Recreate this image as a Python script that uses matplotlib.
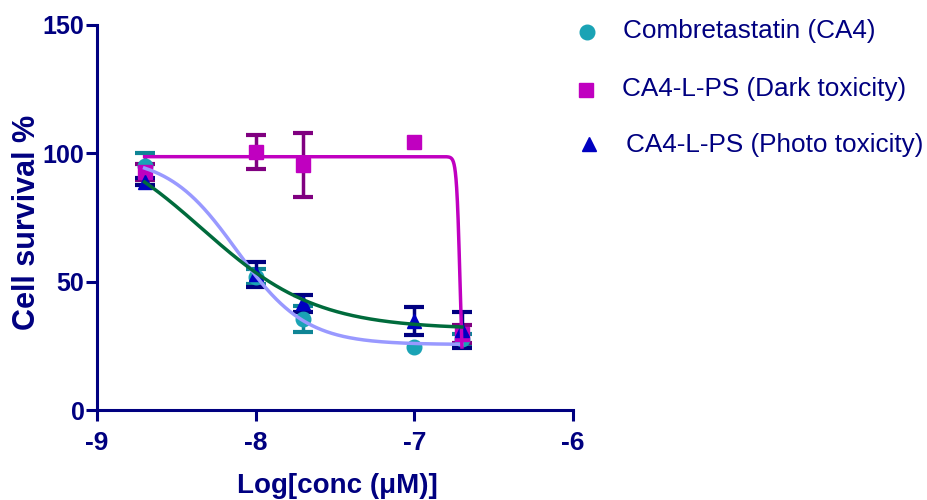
import numpy as np
import matplotlib
matplotlib.use("Agg")
import matplotlib.pyplot as plt
from matplotlib.lines import Line2D

# log concentration (M)
log_conc = [-8.7, -8.0, -7.7, -7.0, -6.7]

# cell survival (%) mean and error (nan = no visible error bar)
ca4_mean = [95.0, 52.0, 35.5, 24.5, 27.5]
ca4_err = [5.3, 3.0, 5.0, np.nan, 2.0]
dark_mean = [92.7, 100.5, 95.5, 104.5, 29.5]
dark_err = [3.1, 6.5, 12.5, np.nan, 3.5]
photo_mean = [89.0, 52.8, 41.5, 34.6, 31.0]
photo_err = [1.5, 4.9, 3.3, 5.4, 7.0]

# 4-parameter fit: top, bottom, logEC50, hill slope
ca4_fit = (99.0, 25.5, -8.12, 2.0)
dark_fit = (98.7, 0.0, -6.712, 40.0)
photo_fit = (110.0, 31.5, -8.34, 1.2)

labels = ["Combretastatin (CA4)", "CA4-L-PS (Dark toxicity)", "CA4-L-PS (Photo toxicity)"]

NAVY = "#000080"
plt.rcParams["font.family"] = ["Liberation Sans", "DejaVu Sans"]


def four_pl(x, top, bottom, logec50, hill):
    return bottom + (top - bottom) / (1 + 10 ** ((x - logec50) * hill))


W, H = 927, 500
fig = plt.figure(figsize=(W / 100, H / 100), dpi=100)
ax = fig.add_axes([97 / W, 90 / H, 476 / W, 385 / H])

series = [
    (ca4_mean, ca4_err, "o", "#1aa3b5", "#0f8595", ca4_fit, "#9999ff"),
    (dark_mean, dark_err, "s", "#c000c0", "#800080", dark_fit, "#c000c0"),
    (photo_mean, photo_err, "^", "#0000c0", "#000080", photo_fit, "#006b3c"),
]

for mean, err, mk, fc, ec, fit, lc in series:
    ax.errorbar(log_conc, mean, yerr=err, fmt=mk, ms=10.5, color=fc, mec=fc,
                ecolor=ec, elinewidth=2.5, capsize=7, capthick=3, clip_on=False,
                zorder=3)

xs = np.linspace(log_conc[0], log_conc[-1], 3000)
for mean, err, mk, fc, ec, fit, lc in series:
    ax.plot(xs, four_pl(xs, *fit), color=lc, lw=2.5, zorder=4, clip_on=False)

ax.set_xlim(-9, -6)
ax.set_ylim(0, 150)
ax.set_xticks([-9, -8, -7, -6])
ax.set_yticks([0, 50, 100, 150])
ax.set_xticklabels(["-9", "-8", "-7", "-6"])
for s in ["top", "right"]:
    ax.spines[s].set_visible(False)
for s in ["left", "bottom"]:
    ax.spines[s].set_color(NAVY)
    ax.spines[s].set_linewidth(2.2)
ax.tick_params(colors=NAVY, width=2.2, length=8)
ax.tick_params(axis="x", labelsize=19, pad=7)
ax.tick_params(axis="y", labelsize=18, pad=1)
for t in ax.get_xticklabels() + ax.get_yticklabels():
    t.set_fontweight("bold")

ax.set_ylabel("Cell survival %", fontsize=22, fontweight="bold", color=NAVY)
ax.yaxis.set_label_coords(-0.115, 0.488)
ax.set_xlabel("Log[conc (\u03bcM)]", fontsize=20, fontweight="bold", color=NAVY)
ax.xaxis.set_label_coords(0.504, -0.163)

# legend keys placed to match the original layout (pixel positions from top-left)
legend_pos = [((587, 32), (623, 31)), ((586, 90), (622, 89)), ((589, 144), (626, 145))]
for (mean, err, mk, fc, ec, fit, lc), label, (mpos, tpos) in zip(series, labels, legend_pos):
    fig.add_artist(Line2D([mpos[0] / W], [1 - mpos[1] / H], ls="none", marker=mk,
                          ms=10.5, color=fc, transform=fig.transFigure))
    fig.text(tpos[0] / W, 1 - tpos[1] / H, label, fontsize=18.8, color=NAVY,
             ha="left", va="center")

fig.savefig("out.png", dpi=100)
